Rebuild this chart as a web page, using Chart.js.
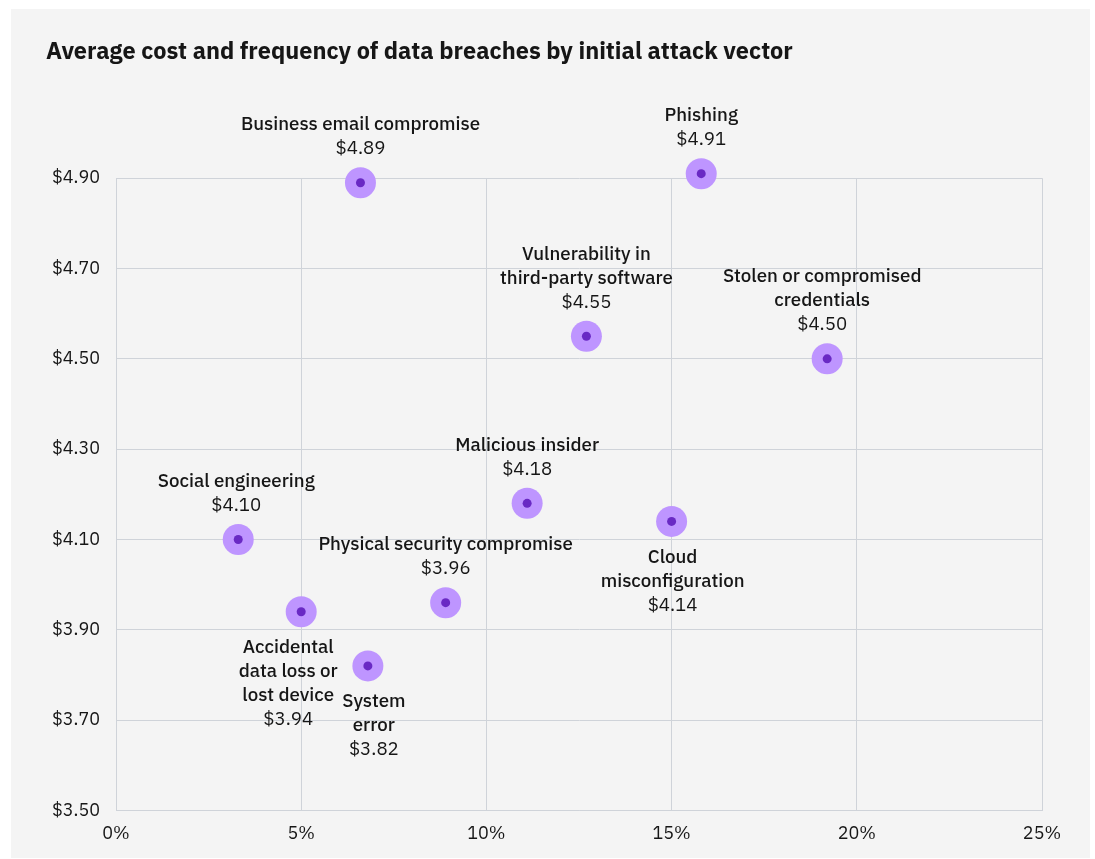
<!DOCTYPE html>
<html>
<head>
<meta charset="utf-8">
<script src="https://cdn.jsdelivr.net/npm/chart.js@4/dist/chart.umd.min.js"></script>
<style>
  html, body { margin: 0; padding: 0; background: #ffffff; }
  .panel {
    position: absolute;
    left: 11px;
    top: 9px;
    width: 1079px;
    height: 849px;
    background: #f4f4f4;
  }
</style>
</head>
<body>
<div class="panel">
  <canvas id="myChart" width="1079" height="849"></canvas>
</div>
<script>
// data
const vectors = [
    ['Business email compromise'],
    ['Phishing'],
    ['Vulnerability in', 'third-party software'],
    ['Stolen or compromised', 'credentials'],
    ['Malicious insider'],
    ['Social engineering'],
    ['Physical security compromise'],
    ['Cloud', 'misconfiguration'],
    ['Accidental', 'data loss or', 'lost device'],
    ['System', 'error'],
];
const frequency = [6.6, 15.8, 12.7, 19.2, 11.1, 3.3, 8.9, 15.0, 5.0, 6.8];
const avgCost = [4.89, 4.91, 4.55, 4.50, 4.18, 4.10, 3.96, 4.14, 3.94, 3.82];
const xTicks = [0, 5, 10, 15, 20, 25];
const yTicks = [3.5, 3.7, 3.9, 4.1, 4.3, 4.5, 4.7, 4.9];

// label placement (style only)
const labelSide = ['above', 'above', 'above', 'above', 'above', 'above', 'above', 'below', 'below', 'below'];
const labelNudge = [0, 0, 0, -5, 0, -2, 0, 1, -13, 6];

const FONT = '"IBM Plex Sans", "Noto Sans", sans-serif';
const INK = '#161616';

const points = frequency.map((f, i) => ({ x: f, y: avgCost[i] }));

const pointLabels = {
    id: 'pointLabels',
    afterDatasetsDraw(chart) {
        const ctx = chart.ctx;
        const meta = chart.getDatasetMeta(1);
        const lineH = 24;
        ctx.save();
        ctx.fillStyle = INK;
        ctx.textAlign = 'center';
        ctx.textBaseline = 'middle';
        meta.data.forEach((pt, i) => {
            const lines = vectors[i].slice();
            const value = `$${avgCost[i].toFixed(2)}`;
            const x = pt.x + labelNudge[i];
            const total = lines.length + 1;
            let startY;
            if (labelSide[i] === 'above') {
                startY = pt.y - 34 - (total - 1) * lineH;
            } else {
                startY = pt.y + 36;
            }
            lines.forEach((line, j) => {
                ctx.font = `500 18.7px ${FONT}`;
                ctx.fillText(line, x, startY + j * lineH);
            });
            ctx.font = `400 18.7px ${FONT}`;
            ctx.fillText(value, x, startY + lines.length * lineH);
        });
        ctx.restore();
    }
};

const myChart = new Chart('myChart', {
    type: 'scatter',
    data: {
        datasets: [
            {
                data: points,
                backgroundColor: '#be95ff',
                borderWidth: 0,
                pointRadius: 15.5,
                pointHoverRadius: 15.5,
                clip: false,
                order: 2,
            },
            {
                data: points,
                backgroundColor: '#6929c4',
                borderWidth: 0,
                pointRadius: 4.5,
                // keeps points just above the top gridline from being skipped
                pointHoverRadius: 14,
                clip: false,
                order: 1,
            },
        ]
    },
    options: {
        responsive: false,
        animation: false,
        events: [],
        layout: {
            padding: { left: 35, right: 48, top: 0, bottom: 0 }
        },
        scales: {
            x: {
                type: 'linear',
                min: 0,
                max: 25,
                afterBuildTicks: (scale) => {
                    scale.ticks = xTicks.map(v => ({ value: v }));
                },
                grid: { color: '#cfd3d9', drawTicks: false },
                border: { color: '#cfd3d9' },
                ticks: {
                    padding: 13,
                    color: INK,
                    font: { family: FONT, size: 18 },
                    callback: (v) => `${v}%`,
                },
            },
            y: {
                type: 'linear',
                min: 3.5,
                max: 4.9,
                afterBuildTicks: (scale) => {
                    scale.ticks = yTicks.map(v => ({ value: v }));
                },
                afterFit: (scale) => { scale.width = 70; },
                grid: { color: '#cfd3d9', drawTicks: false },
                border: { color: '#cfd3d9' },
                ticks: {
                    padding: 16,
                    color: INK,
                    font: { family: FONT, size: 18 },
                    callback: (v) => `$${Number(v).toFixed(2)}`,
                },
            },
        },
        plugins: {
            legend: { display: false },
            tooltip: { enabled: false },
            title: {
                display: true,
                text: 'Average cost and frequency of data breaches by initial attack vector',
                align: 'start',
                color: INK,
                font: { family: FONT, size: 23.5, weight: 'bold' },
                padding: { top: 29, bottom: 112 },
            },
        },
    },
    plugins: [pointLabels],
});
</script>
</body>
</html>
